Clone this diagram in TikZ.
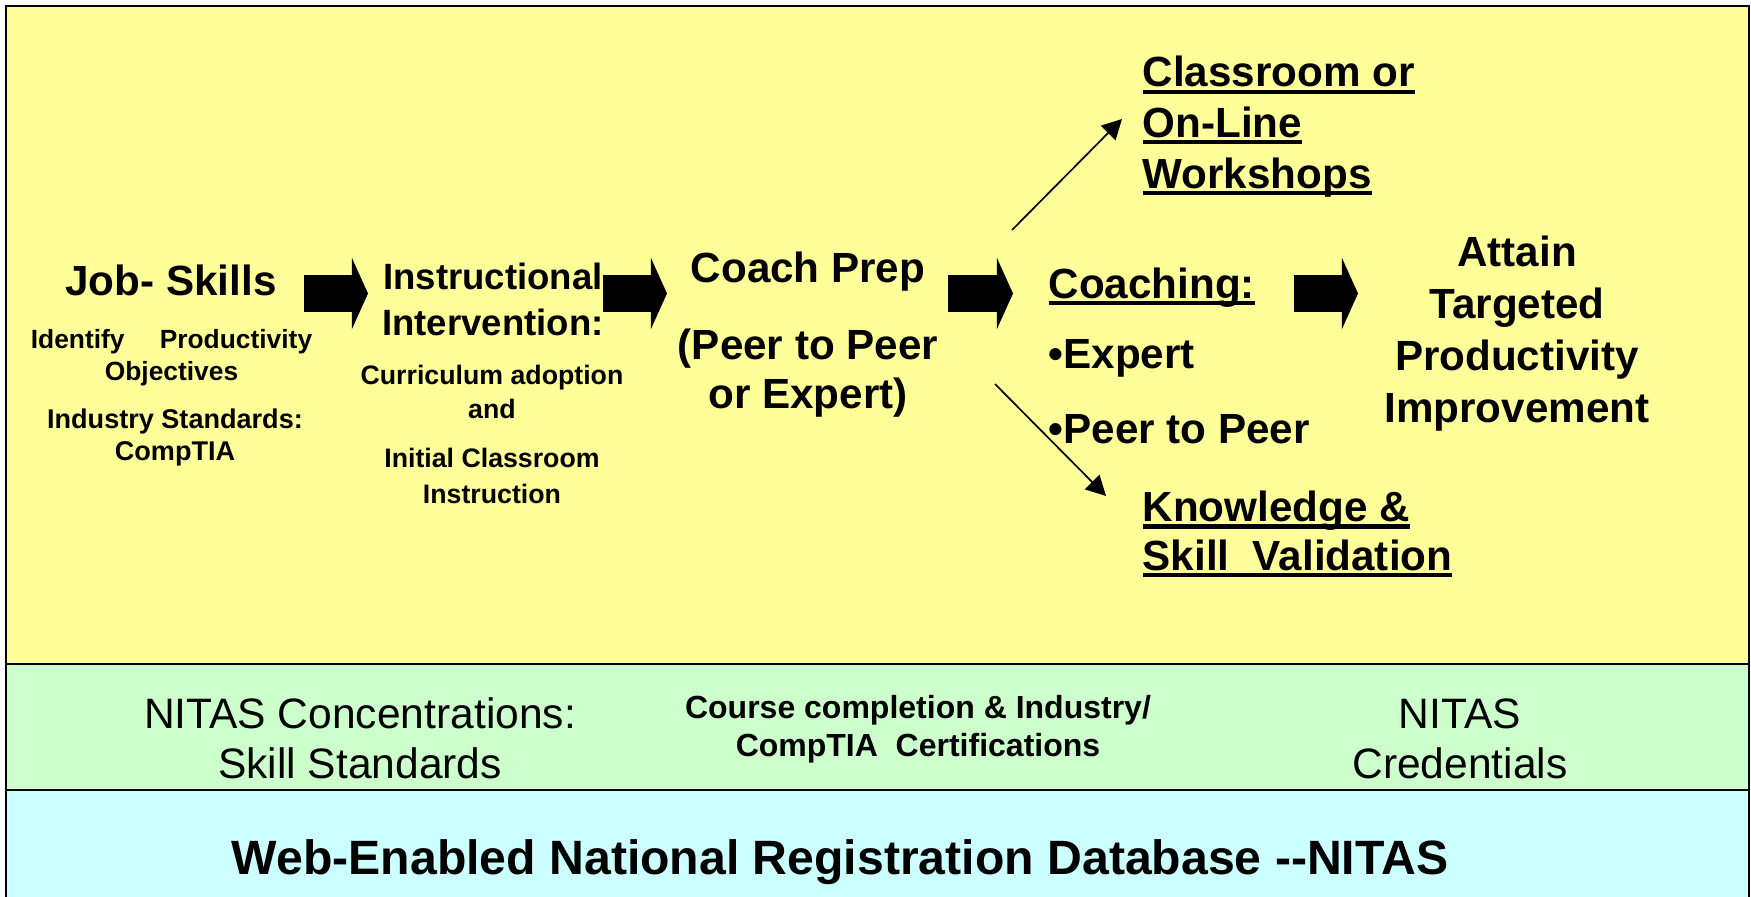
\documentclass[tikz,border=0pt]{standalone}
\usepackage{fontspec}
\setmainfont{Liberation Sans}
\usetikzlibrary{positioning, arrows.meta}
\definecolor{paneyellow}{HTML}{FFFF99}
\definecolor{panegreen}{HTML}{CCFFCC}
\definecolor{panecyan}{HTML}{CCFFFF}
% underline at a fixed depth, crossing descenders
\newcommand{\undl}[1]{\setbox0\hbox{#1}\rlap{\rule[-2pt]{\wd0}{1.2pt}}\box0}

\begin{document}
\begin{tikzpicture}[
        x=0.01cm, y=-0.01cm,
        label/.style={
            inner sep=0pt,
            anchor=base,
            align=center
        },
        big/.style={label, font=\fontsize{12}{13.8}\selectfont\bfseries},
        small/.style={label, font=\fontsize{7.6}{9.2}\selectfont\bfseries},
        fatarrow/.style={
            line width=10.5pt,
            -{Triangle[length=4.6pt, width=20.2pt]},
            black
        },
        arrow/.style={
            line width=0.48pt,
            -{Triangle[length=5.6pt, width=5.8pt]},
            black
        }
    ]
        \useasboundingbox (0,0) rectangle (1751,897);
        \clip (0,0) rectangle (1751,897);

        % the three bands
        \draw [line width=0.6pt, fill=paneyellow] (6,6) rectangle (1749,664);
        \draw [line width=0.6pt, fill=panegreen] (6,664) rectangle (1749,790);
        \draw [line width=0.6pt, fill=panecyan] (6,790) rectangle (1749,920);

        % steps (multi-line nodes sit on their last baseline)
        \node [big] (skills) at (171,295) {Job- Skills};
        \node [small, font=\fontsize{7.5}{9.1}\selectfont\bfseries] (objectives) at (171.5,380) {Identify\hspace{10pt}Productivity\\Objectives};
        \node [small, font=\fontsize{7.7}{9.1}\selectfont\bfseries] (standards) at (175,460) {Industry Standards:\\CompTIA};

        \node [label, font=\fontsize{10.4}{12.8}\selectfont\bfseries] (instruct) at (493,335) {Instructional\\Intervention:};
        \node [small, font=\fontsize{7.6}{9.4}\selectfont\bfseries] (adoption) at (492,418) {Curriculum adoption\\and};
        \node [small, font=\fontsize{7.6}{10.2}\selectfont\bfseries] (initial) at (492,503) {Initial Classroom\\Instruction};

        \node [big] (prep) at (808,282) {Coach Prep};
        \node [big] (mode) at (808,408) {(Peer to Peer\\or Expert)};

        \node [big, anchor=base west] (coaching) at (1048,298) {\undl{Coaching:}};
        \node [big, anchor=base west] (expert) at (1048,368) {•Expert};
        \node [big, anchor=base west] (peer) at (1048,443) {•Peer to Peer};

        \node [big, anchor=base west, align=left, font=\fontsize{12}{14.4}\selectfont\bfseries] (workshops) at (1142,188) {\undl{Classroom or}\\\undl{On-Line}\\\undl{Workshops}};
        \node [big, anchor=base west, align=left] (validation) at (1142,570) {\undl{Knowledge \&}\\\undl{Skill\ \ Validation}};

        \node [label, font=\fontsize{12}{14.7}\selectfont\bfseries] (goal) at (1517,422) {Attain\\Targeted\\Productivity\\Improvement};

        % bottom bands
        \node [label, font=\fontsize{12.1}{14.2}\selectfont] (concentrations) at (360,778) {NITAS Concentrations:\\Skill Standards};
        \node [label, font=\fontsize{9.1}{10.8}\selectfont\bfseries] (certs) at (918,756) {Course completion \& Industry/\\CompTIA\ \ Certifications};
        \node [label, font=\fontsize{12.1}{14.2}\selectfont] (credentials) at (1460,778) {NITAS\\Credentials};
        \node [label, font=\fontsize{13.7}{16}\selectfont\bfseries] (database) at (840,874) {Web-Enabled National Registration Database -\kern0pt-NITAS};

        % block arrows between the steps
        \coordinate (a1) at (304,293.5);
        \coordinate (b1) at (368,293.5);
        \coordinate (a2) at (603,293.5);
        \coordinate (b2) at (667,293.5);
        \coordinate (a3) at (948,293.5);
        \coordinate (b3) at (1013,293.5);
        \coordinate (a4) at (1294,293.5);
        \coordinate (b4) at (1358,293.5);
        \draw [fatarrow] (a1) -- (b1);
        \draw [fatarrow] (a2) -- (b2);
        \draw [fatarrow] (a3) -- (b3);
        \draw [fatarrow] (a4) -- (b4);

        % branches off coaching
        \coordinate (up) at (1012,230);
        \coordinate (uptip) at (1122,119);
        \coordinate (down) at (995,384);
        \coordinate (downtip) at (1106,496);
        \draw [arrow] (up) -- (uptip);
        \draw [arrow] (down) -- (downtip);
    \end{tikzpicture}
\end{document}
